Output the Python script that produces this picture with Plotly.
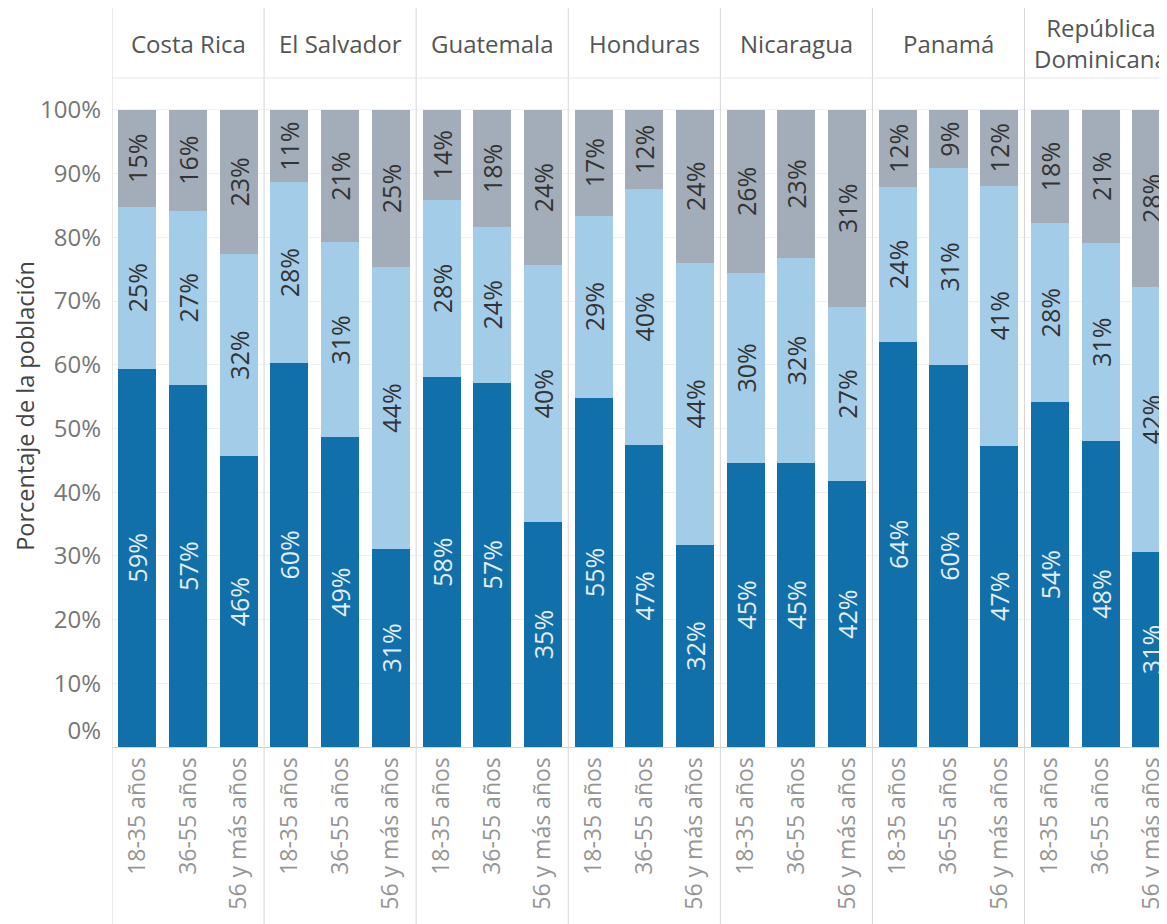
import plotly.graph_objects as go

countries = ["Costa Rica", "El Salvador", "Guatemala", "Honduras",
             "Nicaragua", "Panamá", "República<br>Dominicana"]
age_groups = ["18-35 años", "36-55 años", "56 y más años"]

# Percentages (bottom / middle / top segment), 3 age groups per country
seg_bottom = [59.4, 56.8, 45.6,  60.3, 48.6, 31.1,  58.0, 57.2, 35.3,
              54.8, 47.4, 31.7,  44.6, 44.6, 41.7,  63.6, 59.9, 47.3,
              54.1, 48.0, 30.6]
seg_middle = [25.4, 27.4, 31.8,  28.3, 30.6, 44.2,  27.9, 24.4, 40.3,
              28.6, 40.2, 44.3,  29.8, 32.1, 27.4,  24.3, 30.9, 40.8,
              28.1, 31.1, 41.6]
seg_top = [15.2, 15.8, 22.6,  11.4, 20.8, 24.7,  14.1, 18.4, 24.4,
           16.6, 12.4, 24.0,  25.6, 23.3, 30.9,  12.1, 9.2, 11.9,
           17.8, 20.9, 27.8]

y_ticks = [10, 20, 30, 40, 50, 60, 70, 80, 90, 100]

n_g = len(age_groups)
xpos = [ci * n_g + gi for ci in range(len(countries)) for gi in range(n_g)]
xlabels = [age_groups[gi] for ci in range(len(countries)) for gi in range(n_g)]

FONT = "Open Sans"
C_DARK = "#1170aa"
C_LIGHT = "#a3cce9"
C_GRAY = "#a3acb9"
LINE = "#d6d6d6"

fig = go.Figure()
for vals, color, tcolor, name in [
    (seg_bottom, C_DARK, "#e4edf5", "Segmento 1"),
    (seg_middle, C_LIGHT, "#333333", "Segmento 2"),
    (seg_top, C_GRAY, "#333333", "Segmento 3"),
]:
    fig.add_trace(go.Bar(
        x=xpos, y=vals, name=name, width=0.75,
        marker=dict(color=color, line=dict(width=0)),
        texttemplate="%{y:.0f}%",
        textposition="inside", insidetextanchor="middle",
        textangle=-90, constraintext="none",
        textfont=dict(family=FONT, size=25, color=tcolor),
        hoverinfo="skip",
    ))

# panel separators (full height) and header bottom line
for k in range(len(countries) + 1):
    xb = k * n_g - 0.5
    fig.add_shape(type="line", xref="x", yref="paper", x0=xb, x1=xb,
                  y0=-0.27, y1=1.1046, line=dict(color=LINE, width=1))
fig.add_shape(type="line", xref="paper", yref="paper", x0=0, x1=1,
              y0=1, y1=1, line=dict(color="#e6e6e6", width=1))

for ci, c in enumerate(countries):
    fig.add_annotation(x=ci * n_g + 1, xref="x", y=1, yref="paper",
                       yanchor="middle", yshift=35, text=c, showarrow=False,
                       font=dict(family=FONT, size=24, color="#555555"))

fig.add_annotation(xref="paper", x=0, xshift=-87, xanchor="center",
                   yref="paper", y=0.51, yanchor="middle", borderpad=0,
                   text="Porcentaje de la población", textangle=-90,
                   showarrow=False, font=dict(family=FONT, size=23.5, color="#444444"))

fig.update_layout(
    width=1159, height=916,
    margin=dict(l=104, r=0, t=70, b=177),
    paper_bgcolor="white", plot_bgcolor="white",
    barmode="stack", showlegend=False,
    xaxis=dict(range=[-0.5, 20.31], tickvals=xpos, ticktext=xlabels,
               tickangle=-90, tickfont=dict(family=FONT, size=23, color="#959595"),
               showgrid=False, zeroline=False, showline=True, linecolor=LINE,
               ticks="", ticklabelstandoff=0),
    yaxis=dict(range=[0, 105], tickvals=y_ticks,
               ticktext=[f"{t}%" for t in y_ticks],
               tickfont=dict(family=FONT, size=24, color="#777777"),
               showgrid=True, gridcolor="#f1f1f1", zeroline=False,
               showline=False, ticks="", ticklabelstandoff=10),
    yaxis2=dict(range=[0, 105], overlaying="y", side="left", tickvals=[0],
                ticktext=["0%"], tickfont=dict(family=FONT, size=24, color="#777777"),
                showgrid=False, zeroline=False, showline=False, ticks="",
                ticklabelstandoff=10, ticklabelshift=-16),
)
# invisible helper trace so that the 0% axis is drawn
fig.add_trace(go.Scatter(x=[0], y=[0], yaxis="y2", mode="markers",
                         marker=dict(opacity=0), hoverinfo="skip", showlegend=False))

fig.write_html("out.html")
